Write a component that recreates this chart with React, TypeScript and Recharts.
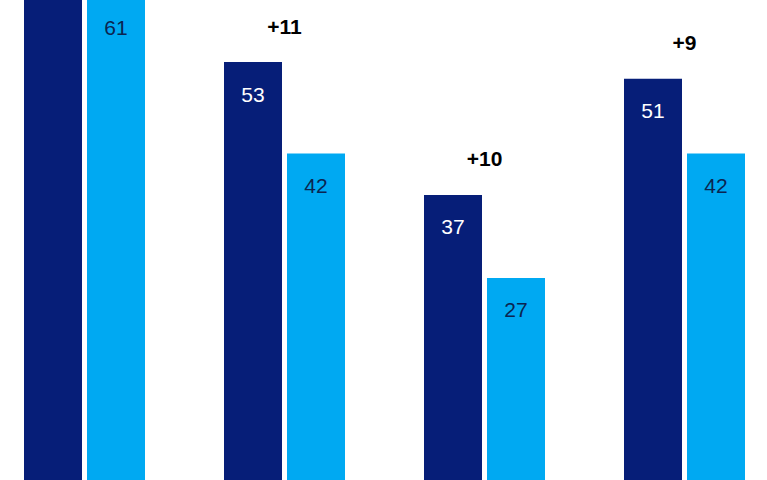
import React from 'react';
import { BarChart, Bar, XAxis, YAxis, LabelList } from 'recharts';

// Four groups; the first group's dark bar runs off the top of the picture (value estimated)
const groups = ['A', 'B', 'C', 'D'];
const darkValues = [74, 53, 37, 51];
const lightValues = [61, 42, 27, 42];

const DARK = '#061e78';
const LIGHT = '#00a9f2';
const FONT = '"Liberation Sans", Arial, sans-serif';

const data = groups.map((g, i) => ({
  name: g,
  dark: darkValues[i],
  light: lightValues[i],
  diff: darkValues[i] - lightValues[i],
}));

const BAR = 58;
const GAP = 5;

const valueLabel = (color: string) => (props: any) => {
  const { x, y, width, value } = props;
  return (
    <text
      x={Number(x) + Number(width) / 2}
      y={Number(y) + 32}
      fill={color}
      textAnchor="middle"
      dominantBaseline="central"
      fontFamily={FONT}
      fontSize={21}
    >
      {value}
    </text>
  );
};

const diffLabel = (props: any) => {
  const { x, y, width, value } = props;
  return (
    <text
      x={Number(x) + Number(width) + GAP / 2}
      y={Number(y) - 36}
      fill="#000"
      textAnchor="middle"
      dominantBaseline="central"
      fontFamily={FONT}
      fontWeight="bold"
      fontSize={21}
    >
      {`+${value}`}
    </text>
  );
};

export default function App() {
  return (
    <div style={{ position: 'fixed', left: 0, top: 0, width: 767, height: 480, overflow: 'hidden', background: '#fff' }}>
      <div style={{ position: 'absolute', left: -16, top: -162 }}>
        <BarChart
          width={800}
          height={664}
          data={data}
          margin={{ top: 0, right: 0, bottom: 0, left: 0 }}
          barSize={BAR}
          barGap={GAP}
        >
          <XAxis dataKey="name" hide />
          <YAxis hide domain={[0, 80]} />
          <Bar dataKey="dark" fill={DARK} isAnimationActive={false}>
            <LabelList dataKey="dark" content={valueLabel('#ffffff')} />
            <LabelList dataKey="diff" content={diffLabel} />
          </Bar>
          <Bar dataKey="light" fill={LIGHT} isAnimationActive={false}>
            <LabelList dataKey="light" content={valueLabel('#0b2450')} />
          </Bar>
        </BarChart>
      </div>
    </div>
  );
}
